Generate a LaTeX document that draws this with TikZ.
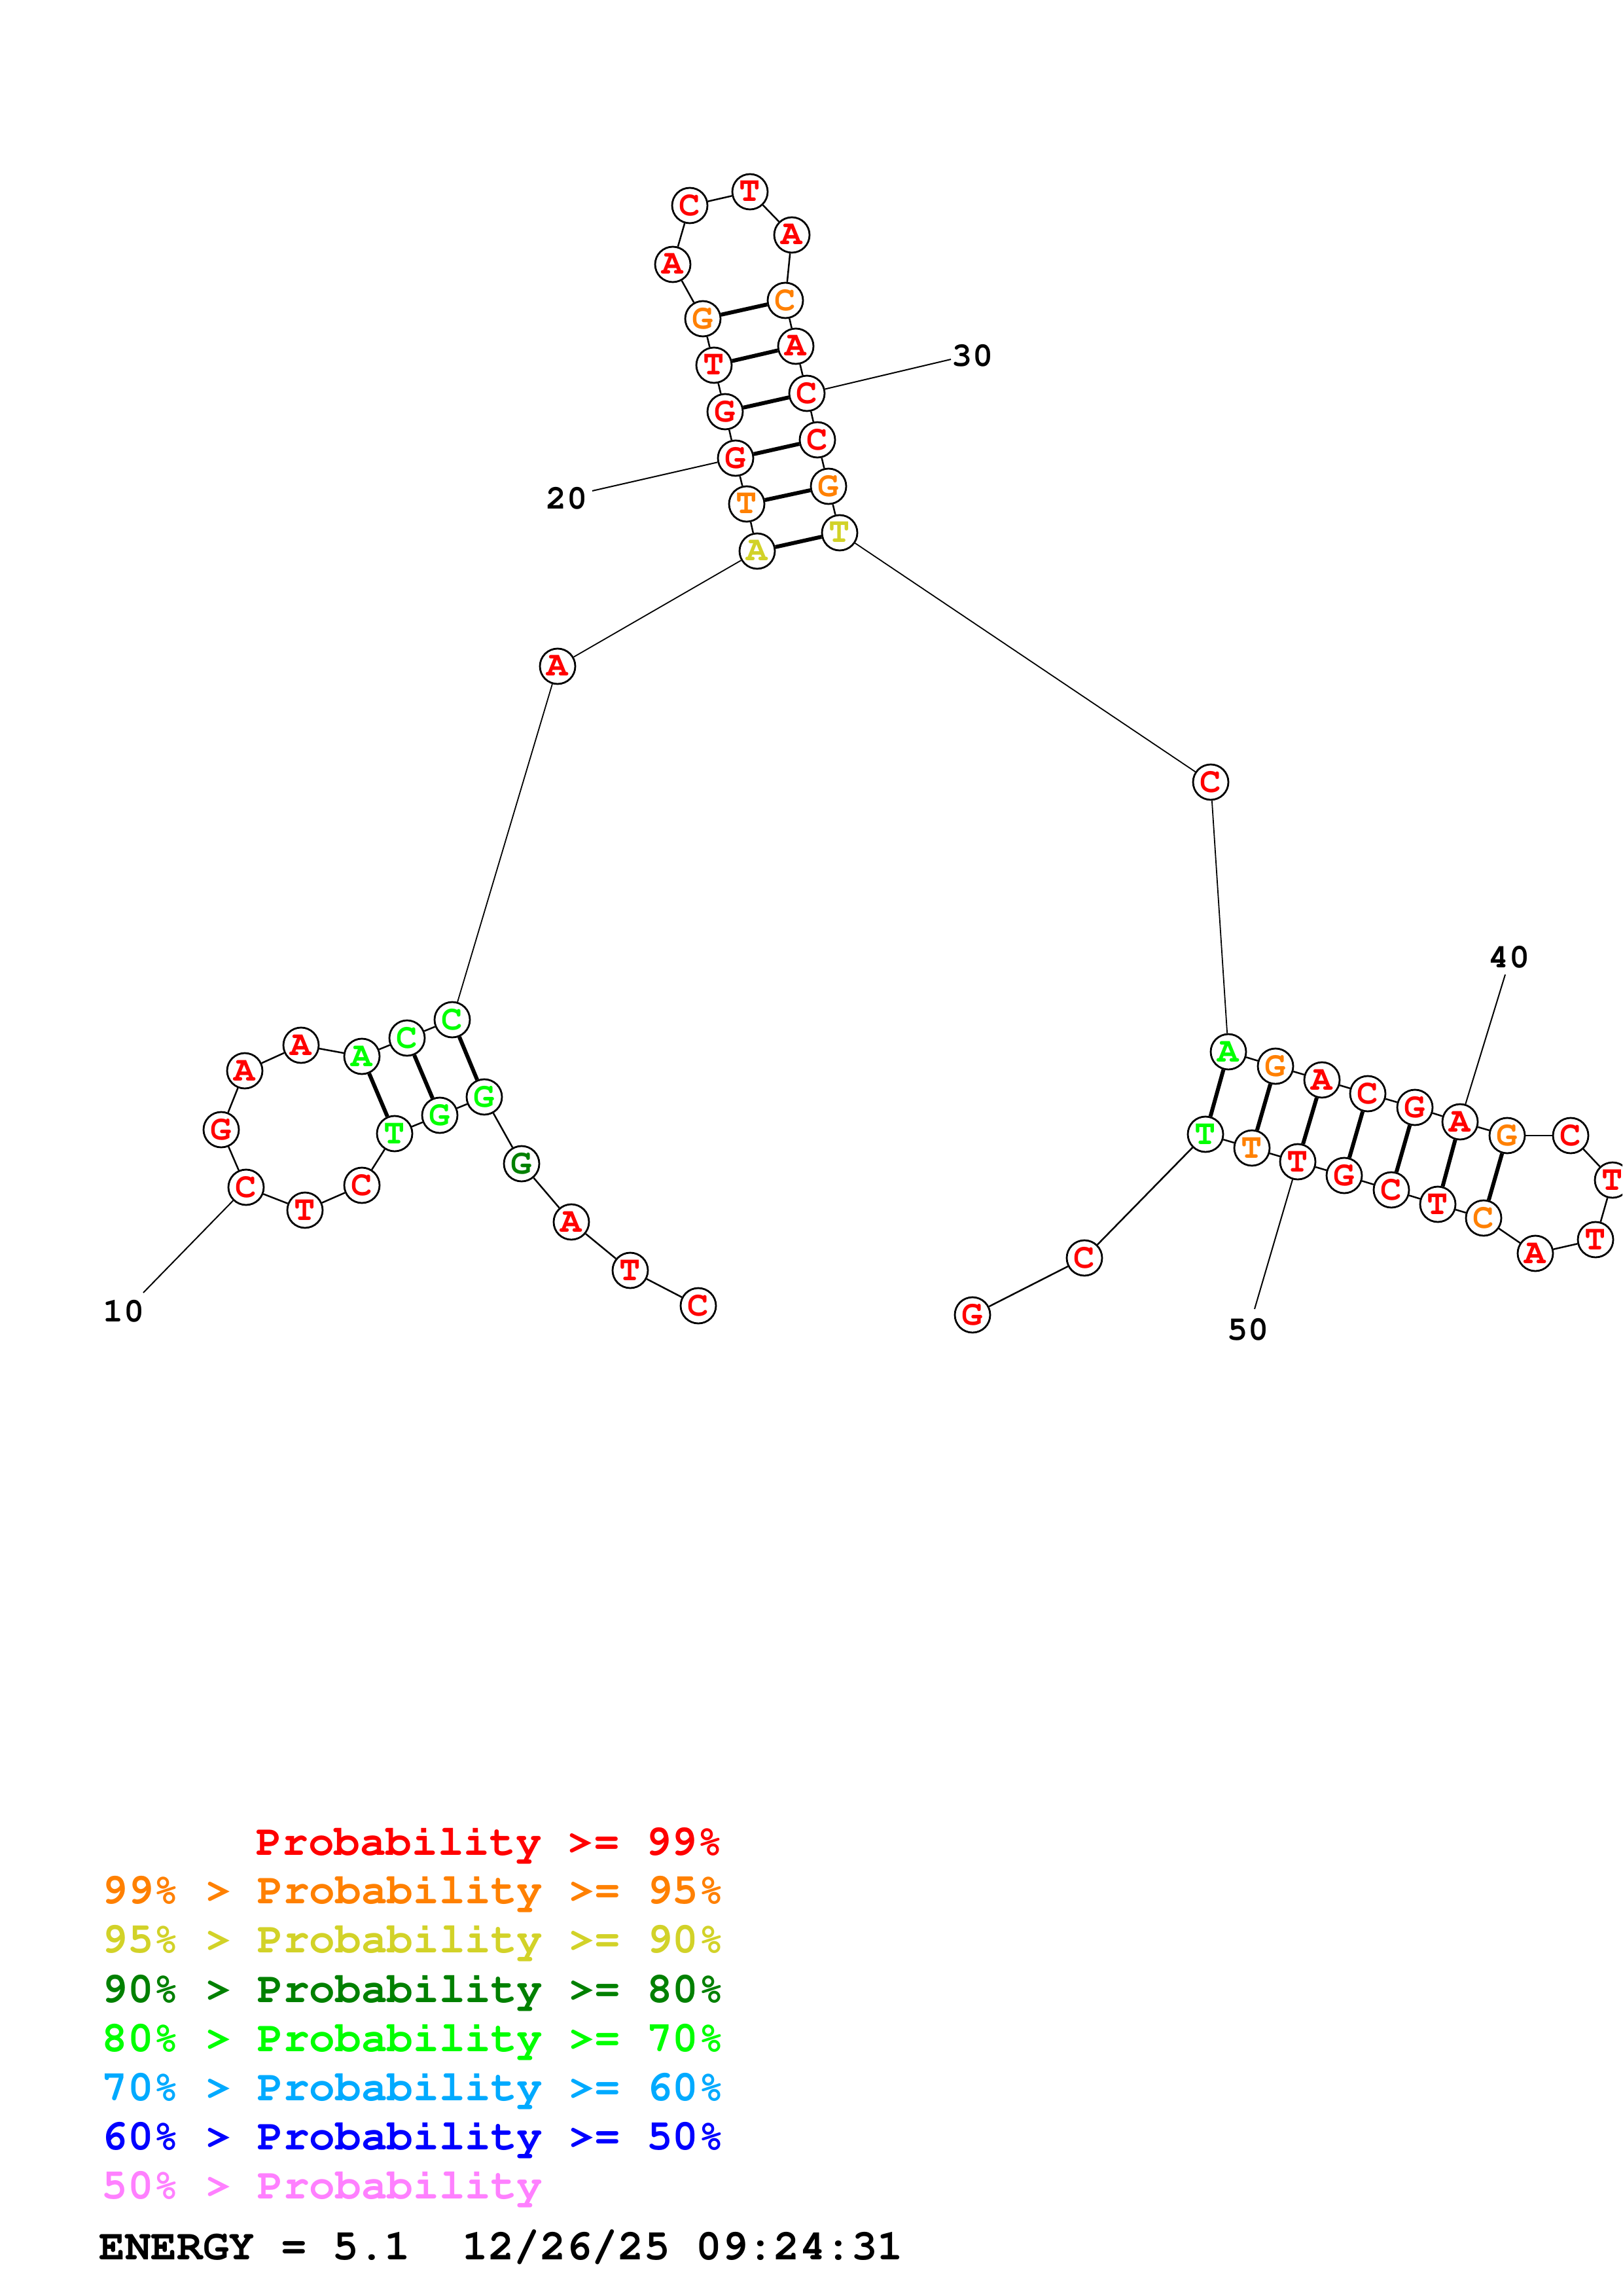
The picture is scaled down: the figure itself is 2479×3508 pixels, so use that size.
\documentclass[tikz,border=0pt]{standalone}
\usepackage[T1]{fontenc}
\usepackage{courier}
\definecolor{cr}{RGB}{255,0,0}
\definecolor{co}{RGB}{255,128,0}
\definecolor{cy}{RGB}{210,210,40}
\definecolor{cd}{RGB}{0,128,0}
\definecolor{cg}{RGB}{0,255,0}
\definecolor{cb}{RGB}{0,170,255}
\definecolor{cu}{RGB}{0,0,255}
\definecolor{cp}{RGB}{255,128,255}
\newcommand{\ntfont}{\fontsize{15.3}{15.3}\ttfamily\bfseries\selectfont}
\newcommand{\lblfont}{\fontsize{14.8}{14.8}\ttfamily\bfseries\selectfont}
\newcommand{\legfont}{\fontsize{18.8}{18.8}\ttfamily\bfseries\selectfont}
\tikzset{
  nt/.style={circle, draw=black, fill=white, line width=0.28mm, minimum size=5.4mm, inner sep=0pt, font=\ntfont},
  bb/.style={line width=0.25mm},
  lng/.style={line width=0.18mm},
  pr/.style={line width=0.6mm},
  lbl/.style={inner sep=0pt, font=\lblfont},
  lab/.style={line width=0.2mm},
  leg/.style={anchor=base west, inner sep=0pt, font=\legfont}
}
\begin{document}
\begin{tikzpicture}[x=0.1mm,y=-0.1mm]
\useasboundingbox (0,0) rectangle (2479,3508);
\clip (0,0) rectangle (2479,3508);
\fill[white] (0,0) rectangle (2479,3508);
\foreach \i/\x/\y/\c/\l in {
 1/1067/1995/cr/C, 2/963/1941/cr/T, 3/873/1867/cr/A, 4/797/1778/cd/G,
 5/740/1676/cg/G, 6/672/1704/cg/G, 7/603/1732/cg/T, 8/553/1811/cr/C,
 9/466/1849/cr/T, 10/376/1814/cr/C, 11/338/1726/cr/G, 12/374/1636/cr/A,
 13/460/1597/cr/A, 14/553/1614/cg/A, 15/622/1586/cg/C, 16/691/1558/cg/C,
 17/852/1018/cr/A, 18/1157/842/cy/A, 19/1141/770/co/T, 20/1124/700/cr/G,
 21/1108/629/cr/G, 22/1091/558/cr/T, 23/1074/487/co/G, 24/1028/404/cr/A,
 25/1054/314/cr/C, 26/1146/293/cr/T, 27/1210/359/cr/A, 28/1200/459/co/C,
 29/1216/529/cr/A, 30/1233/601/cr/C, 31/1249/672/cr/C, 32/1266/743/co/G,
 33/1283/814/cy/T, 34/1850/1195/cr/C, 35/1877/1607/cg/A, 36/1949/1629/co/G,
 37/2020/1650/cr/A, 38/2090/1671/cr/C, 39/2162/1692/cr/G, 40/2231/1714/cr/A,
 41/2303/1735/co/G, 42/2400/1735/cr/C, 43/2464/1803/cr/T, 44/2438/1894/cr/T,
 45/2346/1915/cr/A, 46/2267/1861/co/C, 47/2197/1840/cr/T, 48/2126/1818/cr/C,
 49/2054/1796/cr/G, 50/1983/1775/cr/T, 51/1913/1754/co/T, 52/1842/1733/cg/T,
 53/1657/1922/cr/C, 54/1486/2009/cr/G}
 {\node[nt, text=\c] (n\i) at (\x,\y) {\l};}
% backbone
\foreach \i in {1,...,15}
 {\pgfmathtruncatemacro{\j}{\i+1}\draw[bb] (n\i) -- (n\j);}
\foreach \i in {18,...,32}
 {\pgfmathtruncatemacro{\j}{\i+1}\draw[bb] (n\i) -- (n\j);}
\foreach \i in {35,...,53}
 {\pgfmathtruncatemacro{\j}{\i+1}\draw[bb] (n\i) -- (n\j);}
\draw[lng] (n16) -- (n17);
\draw[lng] (n17) -- (n18);
\draw[lng] (n33) -- (n34);
\draw[lng] (n34) -- (n35);
% pairs
\foreach \a/\b in {5/16,6/15,7/14,18/33,19/32,20/31,21/30,22/29,23/28,35/52,36/51,37/50,38/49,39/48,40/47,41/46}
 {\draw[pr] (n\a) -- (n\b);}
% number labels
\node[lbl] (l10) at (189,2004) {10};
\node[lbl] (l20) at (866,762) {20};
\node[lbl] (l30) at (1486,544) {30};
\node[lbl] (l40) at (2306,1463) {40};
\node[lbl] (l50) at (1907,2032) {50};
\coordinate (e10) at (219,1975);
\coordinate (e20) at (905,750);
\coordinate (e30) at (1453,549);
\coordinate (e40) at (2300,1489);
\coordinate (e50) at (1917,2000);
\draw[lab] (n10) -- (e10);
\draw[lab] (n20) -- (e20);
\draw[lab] (n30) -- (e30);
\draw[lab] (n40) -- (e40);
\draw[lab] (n50) -- (e50);
% legend
\node[leg, text=cr] (g1) at (391,2834) {Probability >= 99\%};
\node[leg, text=co] (g2) at (155,2908) {99\% > Probability >= 95\%};
\node[leg, text=cy] (g3) at (155,2983) {95\% > Probability >= 90\%};
\node[leg, text=cd] (g4) at (155,3059) {90\% > Probability >= 80\%};
\node[leg, text=cg] (g5) at (155,3134) {80\% > Probability >= 70\%};
\node[leg, text=cb] (g6) at (155,3209) {70\% > Probability >= 60\%};
\node[leg, text=cu] (g7) at (155,3284) {60\% > Probability >= 50\%};
\node[leg, text=cp] (g8) at (155,3359) {50\% > Probability};
\node[leg, text=black] (en) at (151,3452) {ENERGY = 5.1\ \ 12/26/25 09:24:31};
\end{tikzpicture}
\end{document}
